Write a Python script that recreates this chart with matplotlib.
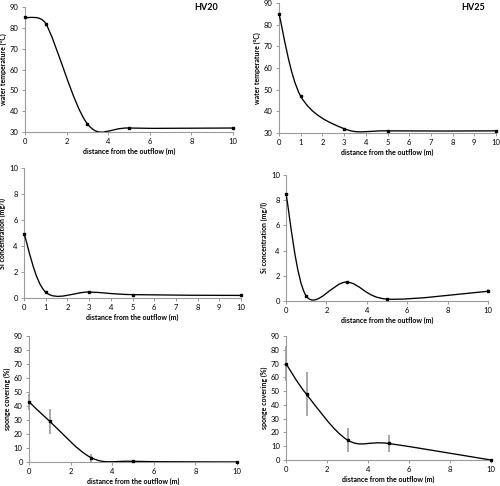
import matplotlib
matplotlib.use("Agg")
import matplotlib.pyplot as plt
from matplotlib.path import Path
from matplotlib.patches import PathPatch
import numpy as np

plt.rcParams['font.family'] = ['Lato', 'DejaVu Sans']

distance = [0, 1, 3, 5, 10]
temp_hv20 = [85, 82, 34, 32, 32]
temp_hv25 = [85, 47, 32, 31, 31]
si_hv20 = [4.95, 0.45, 0.46, 0.26, 0.2]
si_hv25 = [8.5, 0.4, 1.5, 0.15, 0.77]
si_hv25_err = [0, 0, 0, 0, 0.17]
sponge_hv20 = [43, 29, 3, 0.5, 0]
sponge_hv20_err = [5.5, 9, 3, 0, 0]
sponge_hv25 = [70, 47.7, 14.5, 12, 0]
sponge_hv25_err = [13, 16, 8.5, 6.5, 0]

xlabel = "distance from the outflow (m)"
tick_col = "#9a9a9a"

W, H = 500, 486


def smooth_path(x, y, sx, sy):
    # spreadsheet-style smoothed line, computed in screen-scaled space
    pts = np.column_stack([np.asarray(x, float) * sx, np.asarray(y, float) * sy])
    n = len(pts)
    verts = [pts[0]]
    codes = [Path.MOVETO]
    for i in range(n - 1):
        p0 = pts[i - 1] if i > 0 else pts[i]
        p1 = pts[i]
        p2 = pts[i + 1]
        p3 = pts[i + 2] if i + 2 < n else pts[i + 1]
        d12 = np.linalg.norm(p2 - p1)
        a = p2 - p0
        b = p3 - p1
        fa = min(1 / 6, d12 / (2 * np.linalg.norm(a))) if np.linalg.norm(a) > 0 else 0
        fb = min(1 / 6, d12 / (2 * np.linalg.norm(b))) if np.linalg.norm(b) > 0 else 0
        c1 = p1 + fa * a
        c2 = p2 - fb * b
        verts += [c1, c2, p2]
        codes += [Path.CURVE4] * 3
    verts = np.array(verts)
    verts[:, 0] /= sx
    verts[:, 1] /= sy
    return Path(verts, codes)


fig = plt.figure(figsize=(W / 100, H / 100), dpi=100)

panels = [
    ([0.050, 0.728, 0.416, 0.2576], temp_hv20, None, (30, 90), 10, 2, "water temperature (°C)"),
    ([0.558, 0.7263, 0.434, 0.2675], temp_hv25, None, (30, 90), 10, 1, "water temperature (°C)"),
    ([0.048, 0.3868, 0.434, 0.2675], si_hv20, None, (0, 10), 2, 1, "Si concentration (mg/l)"),
    ([0.572, 0.3807, 0.404, 0.2593], si_hv25, si_hv25_err, (0, 10), 2, 2, "Si concentration (mg/l)"),
    ([0.058, 0.0494, 0.416, 0.2592], sponge_hv20, sponge_hv20_err, (0, 90), 10, 2, "sponge covering (%)"),
    ([0.572, 0.0535, 0.410, 0.2551], sponge_hv25, sponge_hv25_err, (0, 90), 10, 2, "sponge covering (%)"),
]

for rect, vals, err, ylim, ystep, xstep, ylab in panels:
    ax = fig.add_axes(rect)
    sx = rect[2] * W / 10.0
    sy = rect[3] * H / (ylim[1] - ylim[0])
    ax.add_patch(PathPatch(smooth_path(distance, vals, sx, sy), facecolor='none',
                           edgecolor='black', lw=0.95, zorder=3))
    if err is not None:
        eb = ax.errorbar(distance, vals, yerr=err, fmt='none', ecolor='#9a9a9a',
                         elinewidth=1.2, capsize=0, zorder=2)
        for c in eb[2]:
            c.set_clip_on(False)
    ax.plot(distance, vals, 's', color='black', ms=1.7, zorder=4, clip_on=False)
    ax.set_xlim(0, 10)
    ax.set_ylim(*ylim)
    ax.set_xticks(np.arange(0, 10.01, xstep))
    ax.set_yticks(np.arange(ylim[0], ylim[1] + 0.01, ystep))
    for s in ['top', 'right']:
        ax.spines[s].set_visible(False)
    for s in ['left', 'bottom']:
        ax.spines[s].set_color(tick_col)
        ax.spines[s].set_linewidth(0.8)
    ax.tick_params(axis='both', colors=tick_col, labelcolor='black',
                   labelsize=5.5, length=2.5, width=0.7, pad=2)
    ax.set_xlabel(xlabel, fontsize=5, fontweight='bold', labelpad=2)
    ax.set_ylabel(ylab, fontsize=5, fontweight='bold', labelpad=2)

fig.text(206 / W, 1 - 8 / H, "HV20", fontsize=6.5, fontweight='bold', ha='center', va='center')
fig.text(473 / W, 1 - 8 / H, "HV25", fontsize=6.5, fontweight='bold', ha='center', va='center')

fig.savefig("out.png", dpi=100)
